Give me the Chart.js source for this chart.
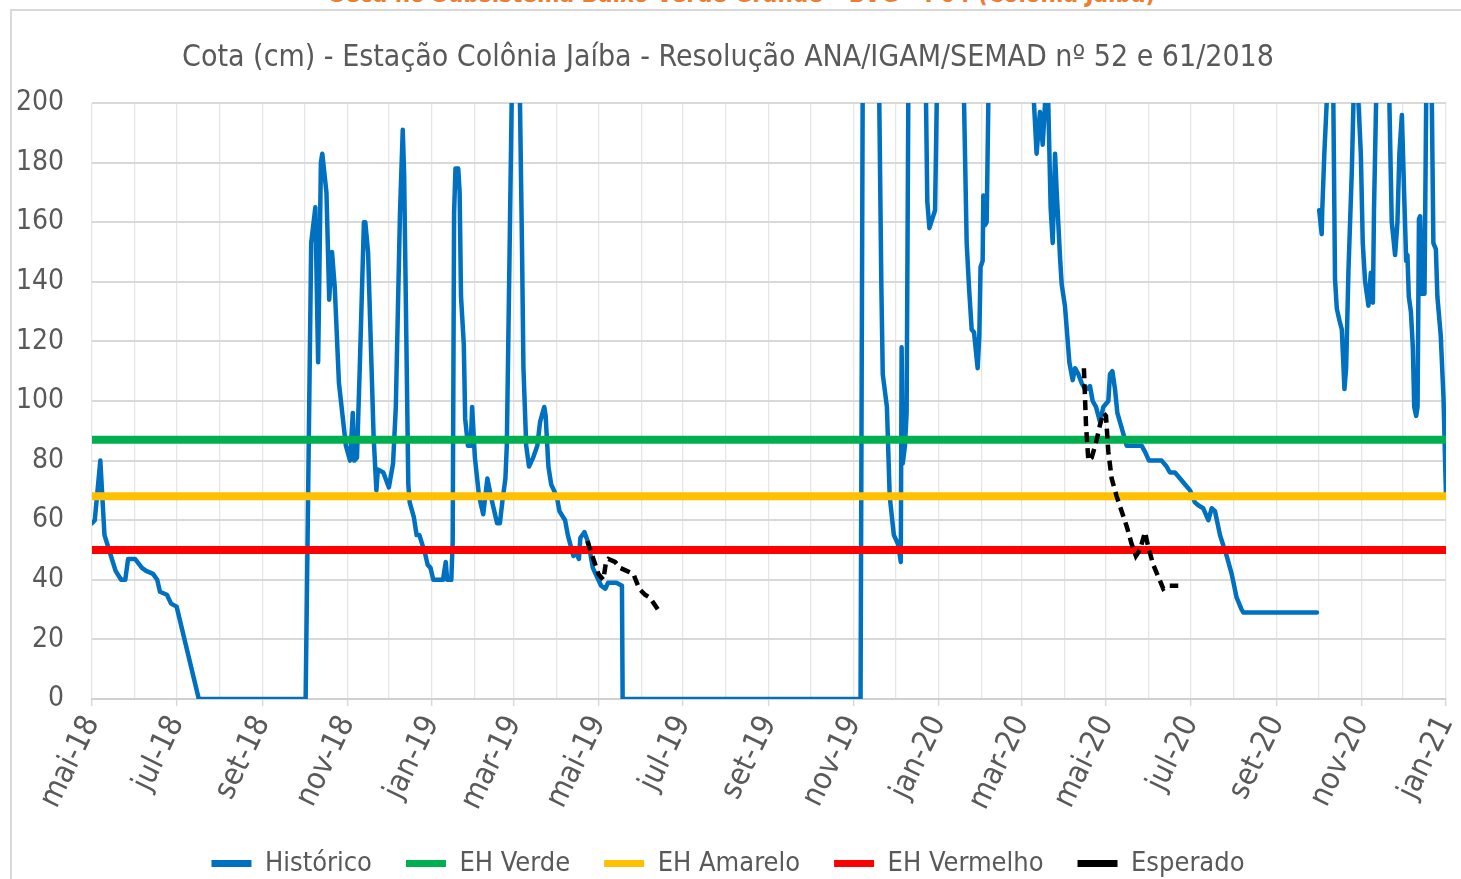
<!DOCTYPE html>
<html lang="pt-BR">
<head>
<meta charset="utf-8">
<title>Cota (cm) - Estação Colônia Jaíba</title>
<script src="https://cdn.jsdelivr.net/npm/chart.js@4.4.1/dist/chart.umd.min.js"></script>
<style>
  html, body { margin: 0; padding: 0; background: #ffffff; overflow: hidden; width: 1461px; height: 879px; }
  #frame { position: absolute; left: 10px; top: 9px; right: 0; bottom: 0; border-top: 2px solid #d9d9d9; border-left: 2px solid #d9d9d9; }
  #sup { position: absolute; top: -19px; left: 0; width: 1461px; padding-left: 24px; box-sizing: border-box; text-align: center;
         font: bold 24px/26px 'DejaVu Sans Condensed', sans-serif; color: #ED7D31; white-space: nowrap; }
  #wrap { position: absolute; left: 0; top: 0; width: 1461px; height: 879px; }
  canvas { display: block; }
</style>
</head>
<body>
<div id="frame"></div>
<div id="sup">Seca no Subsistema Baixo Verde Grande – BVG – P04 (Colônia Jaíba)</div>
<div id="wrap"><canvas id="grafico" width="1461" height="879"></canvas></div>
<script>
// ---- Dados (dias contados a partir de 01/05/2018) ----
const rotulosX = ['mai-18','jul-18','set-18','nov-18','jan-19','mar-19','mai-19','jul-19','set-19',
                  'nov-19','jan-20','mar-20','mai-20','jul-20','set-20','nov-20','jan-21'];

const historicoDia = [
  0,2,6,9,13,17,21,24,26,31,36,39,44,47,49,54,57,61,77,154,
  158,161,163,165,166,169,171,173,175,178,183,186,188,189,191,193,196,197,199,203,
  205,206,210,214,217,219,222,224,225,228,229,232,234,236,240,242,244,246,250,253,
  255,256,259,260,261,262,264,265,266,268,269,271,273,274,276,279,282,285,288,292,
  294,296,298,299,301,302.5,305,308.5,310,311,313,315,318,321,323,326,327,329,331,335,
  337,341,343,347,349,351,352,355,358,361,364,367,370,372,378,382,382.5,554,
  555.5,561,567.5,569,570,573,575,578,581,583,583.6,584.4,586,587.2,588.4,594,601.2,602.1,603.6,607.7,
  608.9,618,628.6,630.5,632.2,634.1,635.8,638.4,639.6,640.5,642,642.5,643.7,644.9,646.1,660,679,680.9,683.3,685.3,
  687,688,689.3,691,692.5,694.2,695.4,697.8,699,701.3,703,704.5,706.9,708.6,711,713.4,715.8,717.5,719.4,721.3,
  723.7,726.6,729,732.6,733.8,735.5,737.4,739.1,742.2,745.8,748.2,750.6,753,756.6,759,761.9,766.2,771,774.6,777,
  780.6,784.3,787.9,791.5,795,797.4,801,804.7,807.1,809.5,813.1,817.9,821.5,825.1,828.7,830,883,883.8,
  884.6,886.4,886.8,888.3,890,892,894.8,896,897.3,899.2,900.9,902.8,904,905.7,908.1,909.3,911,912.9,914.6,916,
  917.7,920.1,921.8,923.3,924.1,925.6,930,935.2,936.9,939.3,941,942.4,944.2,945.8,947.3,948.2,949.2,950.7,952.1,953.1,
  954.5,955.5,956.5,957.4,958.6,960.5,961.7,963.5,965.8,966.9,968.7,969.8,972.2,974.2,976
];
const historicoCota = [
  59,60,80,55,49,43,40,40,47,47,44,43,42,40,36,35,32,31,0,0,
  153,165,113,180,183,170,134,150,138,106,85,80,96,80,81,111,160,160,150,88,
  70,77,76,71,79,98,163,191,176,72,66,61,55,55,49,45,44,40,40,40,
  46,40,40,53,163,178,178,170,135,119,94,85,85,98,81,68,62,74,67,59,
  59,67,74,85,150,200,280,200,150,111,85,78,81,85,93,98,95,78,72,68,
  63,60,55,48,49,47,54,56,52,44,41,38,37,39,39,38,0,0,
  200,290,200,138,109,98,68,55,52,46,118,79,85,96,200,270,200,167,158,164,
  200,290,200,153,138,124,123,111,122,145,147,169,159,160,200,280,200,183,197,186,
  200,212,200,165,153,183,170,148,139,132,122,113,107,111,109,106,104,104,105,100,
  98,93,98,100,109,110,104,96,91,85,85,85,85,85,83,80,80,80,78,76,
  76,74,72,70,66,65,64,60,64,63,55,48,42,34,30,29,29,null,
  164,156,164,183,200,230,200,141,131,127,124,104,111,144,177,200,215,200,183,153,
  140,132,143,133,164,200,240,200,160,149,160,183,196,170,147,149,135,130,118,98,
  95,98,161,162,136,136,200,220,200,153,151,135,122,101,68
];

const esperadoDia = [
  357,361.4,365,368.6,370.5,372.2,377,380.6,385.4,390.2,394.5,398.6,402.2,409.4,
  500,
  715,716.5,718.2,720.6,723.7,726.6,729,730.9,732.6,735,738.6,742.2,745.8,749.4,752.5,755.4,759,761.4,765,768.6,772.2,775.8,783
];
const esperadoCota = [
  53,47,42,40,46,47,46,44,43,42,37,35,34,29,
  null,
  111,92,80,81,86,92,96,95,83,74,68,63,58,52,48,50,56,51,45,41,37,38,38
];

const limiteDia  = [0, 976];
const ehVerde    = [87, 87];
const ehAmarelo  = [68, 68];
const ehVermelho = [50, 50];

// ---- Eixo de tempo: início de cada mês ----
const origem = Date.UTC(2018, 4, 1);
const DIA_MS = 86400000;
const inicioMes = [];
for (let i = 0; i <= 32; i++) inicioMes.push(Math.round((Date.UTC(2018, 4 + i, 1) - origem) / DIA_MS));

const pares = (xs, ys) => xs.map((x, i) => ({ x: x, y: ys[i] }));

const FONTE = "'DejaVu Sans Condensed', 'Liberation Sans Narrow', sans-serif";
const CINZA_TXT = '#595959';

function linhaLimite(label, dados, cor, ordem) {
  return { label: label, data: pares(limiteDia, dados), borderColor: cor, backgroundColor: cor,
           borderWidth: 8, pointRadius: 0, tension: 0, order: ordem, borderCapStyle: 'butt' };
}

new Chart(document.getElementById('grafico'), {
  type: 'line',
  data: {
    datasets: [
      { label: 'Histórico', data: pares(historicoDia, historicoCota), borderColor: '#0070C0', backgroundColor: '#0070C0',
        borderWidth: 4.5, pointRadius: 0, tension: 0, spanGaps: false, order: 5,
        borderJoinStyle: 'round', borderCapStyle: 'round' },
      linhaLimite('EH Verde', ehVerde, '#00B050', 4),
      linhaLimite('EH Amarelo', ehAmarelo, '#FFC000', 3),
      linhaLimite('EH Vermelho', ehVermelho, '#FF0000', 2),
      { label: 'Esperado', data: pares(esperadoDia, esperadoCota), borderColor: '#000000', backgroundColor: '#000000',
        borderWidth: 4.5, borderDash: [10, 6], pointRadius: 0, tension: 0, spanGaps: false, order: 1 }
    ]
  },
  options: {
    responsive: false,
    animation: false,
    events: [],
    devicePixelRatio: 1,
    layout: { padding: { left: 10, right: 15, top: 0, bottom: -8 } },
    scales: {
      x: {
        type: 'linear',
        min: inicioMes[0],
        max: inicioMes[inicioMes.length - 1],
        afterBuildTicks: (s) => { s.ticks = inicioMes.map(v => ({ value: v })); },
        afterFit: (s) => { s.height = 117; s.paddingLeft = 0; s.paddingRight = 0; },
        ticks: {
          autoSkip: false, minRotation: 64, maxRotation: 64, padding: 4,
          color: CINZA_TXT, font: { family: FONTE, size: 31 },
          callback: (v, i) => (i % 2 === 0 ? rotulosX[i / 2] : '')
        },
        grid: {
          color: '#e6e6e6', lineWidth: 1.3, tickLength: 7,
          tickColor: (c) => (c.index % 2 === 0 ? '#d9d9d9' : 'rgba(0,0,0,0)'), tickWidth: 1.5
        },
        border: { color: '#d0d0d0', width: 2 }
      },
      y: {
        min: 0, max: 200,
        afterFit: (s) => { s.width = 82; },
        ticks: { stepSize: 20, padding: 28, color: CINZA_TXT, font: { family: FONTE, size: 28 } },
        grid: { color: '#d9d9d9', lineWidth: 2, drawTicks: false },
        border: { display: false }
      }
    },
    plugins: {
      tooltip: { enabled: false },
      title: {
        display: true,
        text: 'Cota (cm) - Estação Colônia Jaíba - Resolução ANA/IGAM/SEMAD nº 52 e 61/2018',
        color: CINZA_TXT,
        font: { family: FONTE, size: 30, weight: 'normal' },
        padding: { top: 40, bottom: 27 }
      },
      legend: {
        position: 'bottom',
        labels: {
          usePointStyle: true, pointStyle: 'line', pointStyleWidth: 40, padding: 34,
          color: CINZA_TXT, font: { family: FONTE, size: 27 },
          sort: (a, b) => a.datasetIndex - b.datasetIndex,
          generateLabels: (chart) => Chart.defaults.plugins.legend.labels.generateLabels(chart)
            .map(l => Object.assign(l, { lineWidth: 7 }))
        }
      }
    }
  }
});
</script>
</body>
</html>
